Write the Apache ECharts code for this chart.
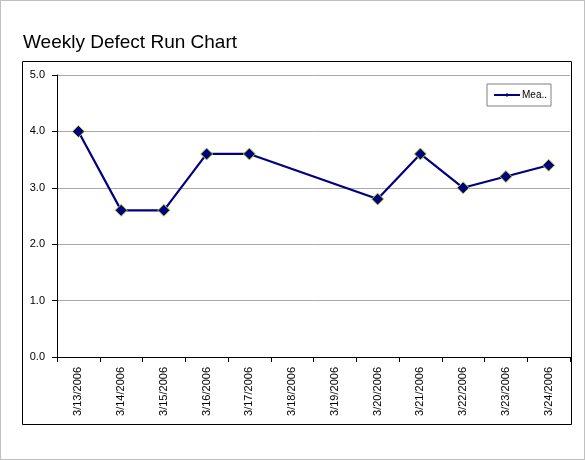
<!DOCTYPE html>
<html><head><meta charset="utf-8">
<script src="https://cdn.jsdelivr.net/npm/echarts@6/dist/echarts.min.js"></script>
<style>
html,body{margin:0;padding:0;background:#fff;}
#frame{position:absolute;left:0;top:0;width:583px;height:458px;border:1px solid #c0c0c0;}
#c{position:absolute;left:0;top:0;width:585px;height:460px;}
</style></head>
<body><div id="frame"></div><div id="c"></div>
<script>
const categories = ['3/13/2006','3/14/2006','3/15/2006','3/16/2006','3/17/2006','3/18/2006','3/19/2006','3/20/2006','3/21/2006','3/22/2006','3/23/2006','3/24/2006'];
const measurements = [4.0, 2.6, 2.6, 3.6, 3.6, null, null, 2.8, 3.6, 3.0, 3.2, 3.4];
const yTicks = [0, 1, 2, 3, 4, 5];
const seriesName = 'Measurement';
const legendLabel = 'Mea..';

const chart = echarts.init(document.getElementById('c'), null, {renderer:'canvas'});
const font = 'Arial, "Liberation Sans", sans-serif';
chart.setOption({
  animation:false,
  backgroundColor:'transparent',
  title:{text:'Weekly Defect Run Chart', left:18, top:28,
    textStyle:{fontFamily:font, fontSize:19, fontWeight:'normal', color:'#000'}},
  graphic:[{type:'rect', shape:{x:22.5,y:61.5,width:549,height:363}, style:{fill:'none', stroke:'#000', lineWidth:1}, silent:true, z:-1}],
  legend:{show:true, left:487, top:84, width:65, height:20, padding:[6,4,6,6],
    borderColor:'#808080', borderWidth:1, itemWidth:26, itemHeight:5, itemGap:2,
    formatter:function(){return legendLabel;},
    textStyle:{fontFamily:font, fontSize:10, color:'#000', padding:[0,0,0,-3]},
    data:[{name:seriesName, itemStyle:{color:'#000080', borderWidth:0}}]},
  grid:{left:57, right:15, top:75, bottom:103, containLabel:false},
  xAxis:{type:'category', data:categories, boundaryGap:true,
    axisLine:{lineStyle:{color:'#000', width:1}},
    axisTick:{show:true, alignWithLabel:false, length:5, lineStyle:{color:'#000'}},
    axisLabel:{rotate:90, interval:0, margin:10, fontFamily:font, fontSize:11, color:'#000'}},
  yAxis:{type:'value', min:yTicks[0], max:yTicks[yTicks.length-1], interval:1,
    axisLine:{show:true, lineStyle:{color:'#000', width:1}},
    axisTick:{show:true, length:5, lineStyle:{color:'#000'}},
    splitLine:{show:true, lineStyle:{color:'#a8a8a8', width:1}},
    axisLabel:{fontFamily:font, fontSize:11, color:'#000', margin:12, formatter:v=>v.toFixed(1)}},
  series:[{name:seriesName, type:'line', data:measurements, connectNulls:true,
    symbol:'diamond', symbolSize:12,
    lineStyle:{color:'#000080', width:2.2},
    itemStyle:{color:'#000080', borderColor:'#b8d820', borderWidth:1}}]
});
</script></body></html>
